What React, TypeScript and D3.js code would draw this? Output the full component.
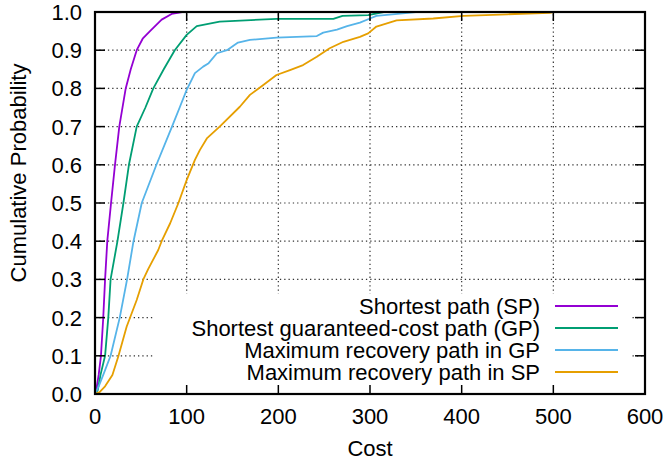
import { useEffect, useRef } from "react";
import * as d3 from "d3";

// Shortest path (SP)
const spCost = [0, 2, 4, 6.5, 9, 11, 13.4, 17.5, 21.8, 26.5, 33.5, 39, 45.5, 52, 60, 72.7, 83.6, 95];
const spProb = [0, 0.02, 0.05, 0.1, 0.2, 0.3, 0.4, 0.5, 0.6, 0.7, 0.8, 0.85, 0.9, 0.93, 0.95, 0.98, 0.995, 1.0];

// Shortest guaranteed-cost path (GP)
const gpCost = [0, 3, 6, 11, 14.5, 17, 24.5, 31, 37, 45.5, 55, 63.6, 75, 87, 100, 111, 136, 198, 260, 270, 298, 315];
const gpProb = [0, 0.01, 0.05, 0.1, 0.2, 0.3, 0.4, 0.5, 0.6, 0.7, 0.75, 0.8, 0.85, 0.9, 0.94, 0.963, 0.975, 0.982, 0.982, 0.99, 0.992, 1.0];

// Maximum recovery path in GP
const mrGpCost = [0, 4, 9, 17, 27, 35, 42, 51, 67, 84, 92.7, 100, 109, 118, 124, 133, 144, 156, 169, 198, 242, 249, 264, 275, 289, 300, 307, 333, 350];
const mrGpProb = [0, 0.02, 0.05, 0.1, 0.2, 0.3, 0.4, 0.5, 0.6, 0.7, 0.752, 0.796, 0.84, 0.857, 0.866, 0.892, 0.9, 0.92, 0.927, 0.933, 0.937, 0.946, 0.954, 0.963, 0.972, 0.983, 0.99, 0.996, 1.0];

// Maximum recovery path in SP
const mrSpCost = [0, 5, 11, 19, 25.4, 34.5, 45.5, 52.7, 58, 69, 72.7, 82, 91, 100, 109, 114.5, 122, 136, 158, 169, 183.6, 198, 212.7, 227, 242, 256, 271, 289, 298, 307, 329, 369, 402, 450, 496, 500];
const mrSpProb = [0, 0.005, 0.02, 0.05, 0.098, 0.176, 0.246, 0.3, 0.327, 0.377, 0.4, 0.447, 0.5, 0.56, 0.613, 0.639, 0.669, 0.7, 0.752, 0.783, 0.809, 0.835, 0.848, 0.861, 0.883, 0.905, 0.922, 0.935, 0.944, 0.962, 0.978, 0.983, 0.99, 0.994, 0.998, 1.0];

const seriesNames = [
  "Shortest path (SP)",
  "Shortest guaranteed-cost path (GP)",
  "Maximum recovery path in GP",
  "Maximum recovery path in SP",
];
const seriesColors = ["#9400d3", "#009e73", "#56b4e9", "#e69f00"];

const xTicks = [0, 100, 200, 300, 400, 500, 600];
const yTicks = [0, 0.1, 0.2, 0.3, 0.4, 0.5, 0.6, 0.7, 0.8, 0.9, 1.0];

const App = () => {
  const svgRef = useRef<SVGSVGElement>(null);

  useEffect(() => {
    const svg = d3.select(svgRef.current);
    svg.selectAll("*").remove();

    const W = 667;
    const H = 463;
    const left = 95, right = 645, top = 12, bottom = 394;
    const font = "Liberation Sans, Arial, sans-serif";
    const fs = "22px";

    svg.attr("width", W).attr("height", H);

    const x = d3.scaleLinear().domain([0, 600]).range([left, right]);
    const y = d3.scaleLinear().domain([0, 1]).range([bottom, top]);

    // grid
    const grid = svg.append("g");
    xTicks.slice(1, -1).forEach((t) => {
      grid.append("line")
        .attr("x1", x(t)).attr("x2", x(t))
        .attr("y1", bottom).attr("y2", top)
        .attr("stroke", "#333").attr("stroke-width", 1.2)
        .attr("stroke-dasharray", "1.3,3");
    });
    yTicks.slice(1, -1).forEach((t) => {
      grid.append("line")
        .attr("x1", left).attr("x2", right)
        .attr("y1", y(t)).attr("y2", y(t))
        .attr("stroke", "#333").attr("stroke-width", 1.2)
        .attr("stroke-dasharray", "1.3,3");
    });

    // opaque key box
    svg.append("rect")
      .attr("x", 153).attr("y", 294)
      .attr("width", 479).attr("height", bottom - 294)
      .attr("fill", "white");

    // curves
    const costs = [spCost, gpCost, mrGpCost, mrSpCost];
    const probs = [spProb, gpProb, mrGpProb, mrSpProb];
    const line = d3.line<[number, number]>()
      .x((d) => x(d[0]))
      .y((d) => y(d[1]));

    costs.forEach((c, k) => {
      const pts: [number, number][] = c.map((v, i) => [v, probs[k][i]]);
      svg.append("path")
        .attr("d", line(pts) as string)
        .attr("fill", "none")
        .attr("stroke", seriesColors[k])
        .attr("stroke-width", 1.8)
        .attr("stroke-linejoin", "round");
    });

    // key
    const key = svg.append("g");
    seriesNames.forEach((name, i) => {
      const cy = 306 + i * 22;
      key.append("text")
        .attr("x", 540).attr("y", cy + 8)
        .attr("text-anchor", "end")
        .style("font-family", font).style("font-size", fs)
        .text(name);
      key.append("line")
        .attr("x1", 555).attr("x2", 618)
        .attr("y1", cy).attr("y2", cy)
        .attr("stroke", seriesColors[i]).attr("stroke-width", 1.8);
    });

    // ticks (inward, mirrored)
    const ticks = svg.append("g").attr("stroke", "black").attr("stroke-width", 1.5);
    xTicks.slice(1, -1).forEach((t) => {
      ticks.append("line").attr("x1", x(t)).attr("x2", x(t)).attr("y1", bottom).attr("y2", bottom - 9);
      ticks.append("line").attr("x1", x(t)).attr("x2", x(t)).attr("y1", top).attr("y2", top + 9);
    });
    yTicks.slice(1, -1).forEach((t) => {
      ticks.append("line").attr("x1", left).attr("x2", left + 10).attr("y1", y(t)).attr("y2", y(t));
      ticks.append("line").attr("x1", right).attr("x2", right - 10).attr("y1", y(t)).attr("y2", y(t));
    });

    // border
    svg.append("rect")
      .attr("x", left).attr("y", top)
      .attr("width", right - left).attr("height", bottom - top)
      .attr("fill", "none").attr("stroke", "black").attr("stroke-width", 2.2);

    // tick labels
    yTicks.forEach((t) => {
      svg.append("text")
        .attr("x", 82).attr("y", y(t) + 8)
        .attr("text-anchor", "end")
        .style("font-family", font).style("font-size", fs)
        .text(d3.format(".1f")(t));
    });
    xTicks.forEach((t) => {
      svg.append("text")
        .attr("x", x(t)).attr("y", 424)
        .attr("text-anchor", "middle")
        .style("font-family", font).style("font-size", fs)
        .text(String(t));
    });

    // axis titles
    svg.append("text")
      .attr("x", (left + right) / 2).attr("y", 456)
      .attr("text-anchor", "middle")
      .style("font-family", font).style("font-size", fs)
      .text("Cost");
    svg.append("text")
      .attr("transform", `translate(26,${(top + bottom) / 2 - 30}) rotate(-90)`)
      .attr("text-anchor", "middle")
      .style("font-family", font).style("font-size", fs)
      .text("Cumulative Probability");
  }, []);

  return (
    <svg ref={svgRef} style={{ position: "absolute", left: 0, top: 0 }}></svg>
  );
};

export default App;
